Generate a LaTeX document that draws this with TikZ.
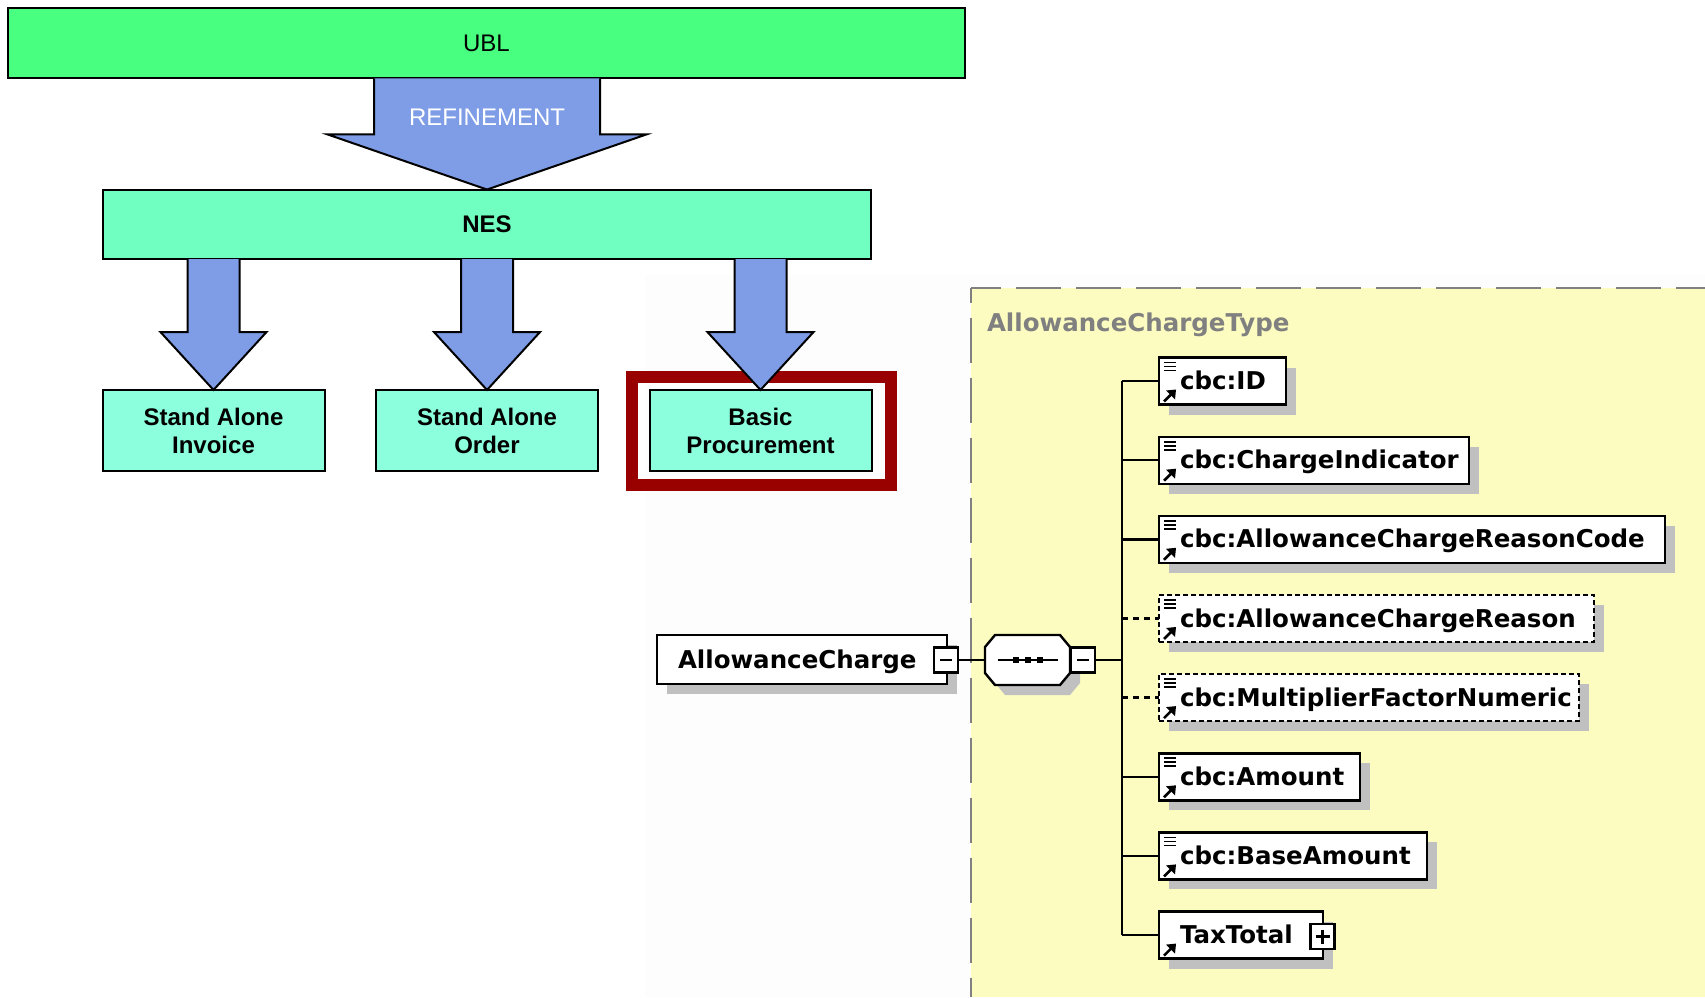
\documentclass[tikz,border=0pt]{standalone}
\usepackage{fontspec}
\setmainfont{Liberation Sans}
\newfontfamily\xsdfont{DejaVu Sans}
\usetikzlibrary{calc,shadows}

\definecolor{ublgreen}{HTML}{48FF80}
\definecolor{nesgreen}{HTML}{70FFC0}
\definecolor{leafgreen}{HTML}{8CFFDD}
\definecolor{arrowblue}{HTML}{7E9DE6}
\definecolor{framered}{HTML}{990000}
\definecolor{xsdyellow}{HTML}{FCFCC0}
\definecolor{xsdgray}{HTML}{808080}
\definecolor{shgray}{HTML}{C0C0C0}
\definecolor{canvasgray}{HTML}{FDFDFD}

% element label padded to a fixed width
\newcommand\eltxt[2]{\hbox to #1pt{#2\hss}}
% block arrow: from node #1 down to node #2, shaft half width #3, shaft length #4, head half width #5
\newcommand\blockarrow[5]{%
  \filldraw[barrow] ($(#2.north |- #1.south)+(-#3,0)$) -- ++(0,#4) -- ++(#3-#5,0)
    -- (#2.north) -- ($(#2.north |- #1.south)+(#5,#4)$) -- ++(#3-#5,0) -- ++(0,-#4);}

\begin{document}
\begin{tikzpicture}[x=1pt,y=-1pt,
  every node/.style={inner sep=0pt, outer sep=0pt},
  levelbox/.style={draw=black, line width=2pt, font=\fontsize{24}{28}\selectfont},
  leaf/.style={levelbox, fill=leafgreen, font=\bfseries\fontsize{24}{28}\selectfont,
    align=center, minimum width=222pt, minimum height=81.5pt},
  barrow/.style={fill=arrowblue, draw=black, line width=2pt, line join=miter},
  shadowed/.style={drop shadow={shadow xshift=10pt, shadow yshift=-10pt, fill=shgray, opacity=1, draw=none}},
  elem/.style={draw=black, line width=2.4pt, fill=white, minimum height=47pt, inner xsep=21pt,
    anchor=west, text height=20pt, text depth=3pt,
    font=\xsdfont\bfseries\fontsize{24.5}{28}\selectfont, shadowed},
  optelem/.style={elem, dash pattern=on 5pt off 3pt},
  tog/.style={draw=black, fill=white, line width=2.3pt, minimum width=24pt, minimum height=25pt},
  sign/.style={line width=2.3pt},
  conn/.style={line width=2.4pt, black},
  optconn/.style={conn, dash pattern=on 6pt off 5pt},
  typeborder/.style={xsdgray, line width=2.5pt, dash pattern=on 45pt off 15pt},
  iconline/.style={line width=1.8pt},
]
\useasboundingbox (0,0) rectangle (1705,997);
\fill[white] (0,0) rectangle (1705,997);

% ---------- schema panel background ----------
\fill[canvasgray] (645,275) rectangle (1705,997);
\fill[xsdyellow] (971,288) rectangle (1705,997);
\draw[typeborder, dash phase=30.5pt] (971,288) -- (971,997);
\draw[typeborder, dash phase=15pt] (971,288) -- (1705,288);

% ---------- specification hierarchy ----------
\node[levelbox, fill=ublgreen, minimum width=957pt, minimum height=70pt] (ubl) at (486.5,43.4) {UBL};
\node[levelbox, fill=nesgreen, font=\bfseries\fontsize{24}{28}\selectfont,
  minimum width=768pt, minimum height=69.5pt] (nes) at (487,224.3) {NES};
\node[leaf] (inv) at (213.5,430.7) {Stand Alone\\Invoice};
\node[leaf] (ord) at (487,430.7) {Stand Alone\\Order};
\node[leaf] (bp) at (760.5,430.7) {Basic\\Procurement};

\blockarrow{ubl}{nes}{113}{56}{159.5}
\node[text=white, font=\fontsize{24}{28}\selectfont] (refine) at (487,117.5) {REFINEMENT};
\blockarrow{nes}{inv}{26}{73}{53}
\blockarrow{nes}{ord}{26}{73}{53}
\draw[framered, line width=12pt] ($(bp.north west)+(-18,-12.5)$) rectangle ($(bp.south east)+(19,14)$);
\blockarrow{nes}{bp}{26}{73}{53}

% ---------- AllowanceChargeType content model ----------
\node[anchor=base west, text=xsdgray, font=\xsdfont\bfseries\fontsize{24.5}{28}\selectfont]
  (ctype) at (987,331.7) {AllowanceChargeType};

\node[elem, minimum height=49pt] (ac) at (657,659.5) {\eltxt{248}{AllowanceCharge}};
\node[tog] (acm) at (946,660) {};
\draw[sign] ($(acm.center)+(-6,0)$) -- ($(acm.center)+(6,0)$);

% sequence compositor
\node[minimum width=85pt, minimum height=50pt] (seq) at (1027.5,660) {};
\filldraw[fill=white, draw=black, line width=2.4pt, shadowed]
  ($(seq.north west)+(10,0)$) -- ($(seq.north east)+(-10,0)$) -- ($(seq.north east)+(0,12)$)
  -- ($(seq.south east)+(0,-12)$) -- ($(seq.south east)+(-10,0)$) -- ($(seq.south west)+(10,0)$)
  -- ($(seq.south west)+(0,-12)$) -- ($(seq.north west)+(0,12)$) -- cycle;
\draw[line width=2.2pt] ($(seq.center)+(-30,0)$) -- ($(seq.center)+(30,0)$);
\foreach \d in {-12,0,12}
  \fill ($(seq.center)+(\d-3,-3)$) rectangle ($(seq.center)+(\d+3,3)$);
\node[tog] (seqm) at (1083,660) {};
\draw[sign] ($(seqm.center)+(-6,0)$) -- ($(seqm.center)+(6,0)$);
\coordinate (tr) at (1122,660);
\draw[conn] (acm.east) -- (seq.west);
\draw[conn] (seqm.east) -- (tr);

% child elements
\node[elem] (id) at (1159,381) {\eltxt{85}{cbc:ID}};
\node[elem] (ci) at (1159,460.2) {\eltxt{268}{cbc:ChargeIndicator}};
\node[elem] (acrc) at (1159,539.3) {\eltxt{464}{cbc:AllowanceChargeReasonCode}};
\node[optelem] (acr) at (1159,618.5) {\eltxt{393}{cbc:AllowanceChargeReason}};
\node[optelem] (mfn) at (1159,697.6) {\eltxt{378}{cbc:MultiplierFactorNumeric}};
\node[elem] (amt) at (1159,776.8) {\eltxt{159}{cbc:Amount}};
\node[elem] (bamt) at (1159,855.9) {\eltxt{226}{cbc:BaseAmount}};
\node[elem] (tt) at (1159,935.1) {\eltxt{122}{TaxTotal}};
\node[tog] (ttp) at (1322.5,936.5) {};
\draw[sign] ($(ttp.center)+(-7,0)$) -- ($(ttp.center)+(7,0)$);
\draw[sign] ($(ttp.center)+(0,-7)$) -- ($(ttp.center)+(0,7)$);

% tree connectors
\draw[conn] (tr |- id.west) -- (tr |- tt.west);
\foreach \n in {id,ci,acrc,amt,bamt,tt}
  \draw[conn] (tr |- \n.west) -- (\n.west);
\foreach \n in {acr,mfn}
  \draw[optconn] (tr |- \n.west) -- (\n.west);

% simple-content and reference icons
\foreach \n in {id,ci,acrc,acr,mfn,amt,bamt}
  \foreach \k in {5,9,13}
    \draw[iconline] ($(\n.north west)+(5,\k)$) -- ++(12,0);
\foreach \n in {id,ci,acrc,acr,mfn,amt,bamt,tt} {
  \draw[line width=2.6pt] ($(\n.south west)+(5,-3)$) -- ++(7,-7);
  \fill ($(\n.south west)+(17,-15)$) -- ++(-10,1) -- ++(9,9) -- cycle;
}
\end{tikzpicture}
\end{document}
